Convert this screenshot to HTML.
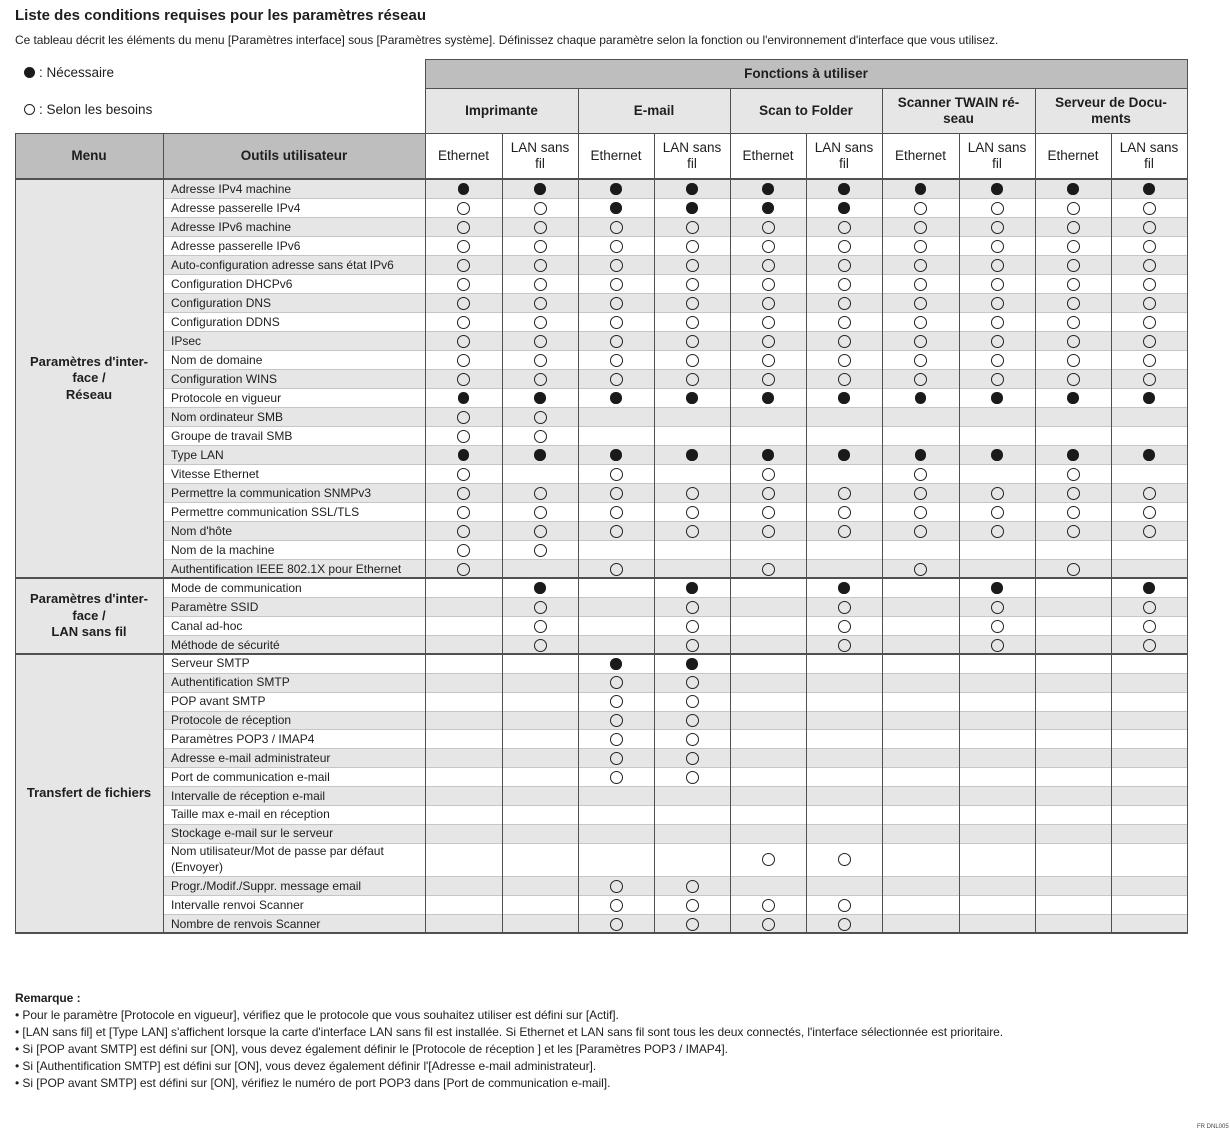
<!DOCTYPE html>
<html><head><meta charset="utf-8">
<style>
*{margin:0;padding:0;box-sizing:border-box}
body{width:1230px;height:1134px;background:#fff;position:relative;overflow:hidden;font-family:"Liberation Sans",Arial,sans-serif;color:#1e1e1e}
.a{position:absolute}
.title{left:15px;top:6.5px;font-size:15px;font-weight:bold;white-space:nowrap}
.sub{left:15px;top:33px;font-size:12px;white-space:nowrap;letter-spacing:-0.05px}
.leg{font-size:13.5px;white-space:nowrap;display:flex;align-items:center}
.leg span{display:inline-block;width:11px;height:11px;border-radius:50%;margin-right:4px}
.hd{display:flex;align-items:center;justify-content:center;text-align:center;line-height:16px}
.b{font-weight:bold;font-size:13.5px}
.n{font-size:13.5px}
.dk{background:#bebebe}
.lt{background:#e6e6e6}
.r{position:absolute;left:163px;width:1024px;height:19px;display:grid;grid-template-columns:262px 77px 76px 76px 76px 76px 76px 77px 76px 76px 76px;border-top:1.3px solid #c6c6c6;background:#fff}
.r.g{background:#e6e6e6}
.r.s{height:18.87px}
.r b{font-weight:normal;font-size:12px;line-height:17px;padding-left:8px;white-space:nowrap;align-self:center}
.r i{display:flex;align-items:center;justify-content:center}
.r i.o::after{content:"";display:block;width:11px;height:11px;border:1.6px solid #222;border-radius:50%}
.r i.f::after{content:"";display:block;width:11.5px;height:11.5px;background:#1a1a1a;border-radius:50%}
.v{position:absolute;width:1.6px;background:#505050}
.h{position:absolute;height:1.6px;background:#505050}
.sec{position:absolute;left:15px;width:148px;background:#e6e6e6;display:flex;align-items:center;justify-content:center;text-align:center;font-weight:bold;font-size:13px;line-height:16.5px}
.notes{left:15px;top:990px;font-size:12px;line-height:17px;white-space:nowrap;letter-spacing:-0.05px}
</style></head><body>
<div class="a title">Liste des conditions requises pour les paramètres réseau</div>
<div class="a sub">Ce tableau décrit les éléments du menu [Paramètres interface] sous [Paramètres système]. Définissez chaque paramètre selon la fonction ou l'environnement d'interface que vous utilisez.</div>
<div class="a leg" style="left:24px;top:65px"><span style="background:#1a1a1a"></span>: Nécessaire</div>
<div class="a leg" style="left:24px;top:102px"><span style="border:1.5px solid #222"></span>: Selon les besoins</div>

<!-- header -->
<div class="a hd b dk" style="left:425px;top:59px;width:762px;height:29px">Fonctions à utiliser</div>
<div class="a hd b lt" style="left:425px;top:88px;width:153px;height:45px">Imprimante</div>
<div class="a hd b lt" style="left:578px;top:88px;width:152px;height:45px">E-mail</div>
<div class="a hd b lt" style="left:730px;top:88px;width:152px;height:45px">Scan to Folder</div>
<div class="a hd b lt" style="left:882px;top:88px;width:153px;height:45px">Scanner TWAIN ré-<br>seau</div>
<div class="a hd b lt" style="left:1035px;top:88px;width:152px;height:45px">Serveur de Docu-<br>ments</div>
<div class="a hd b dk" style="left:15px;top:133px;width:148px;height:46px">Menu</div>
<div class="a hd b dk" style="left:163px;top:133px;width:262px;height:46px">Outils utilisateur</div>
<div class="a hd n" style="left:425px;top:133px;width:77px;height:46px">Ethernet</div>
<div class="a hd n" style="left:502px;top:133px;width:76px;height:46px">LAN sans<br>fil</div>
<div class="a hd n" style="left:578px;top:133px;width:76px;height:46px">Ethernet</div>
<div class="a hd n" style="left:654px;top:133px;width:76px;height:46px">LAN sans<br>fil</div>
<div class="a hd n" style="left:730px;top:133px;width:76px;height:46px">Ethernet</div>
<div class="a hd n" style="left:806px;top:133px;width:76px;height:46px">LAN sans<br>fil</div>
<div class="a hd n" style="left:882px;top:133px;width:77px;height:46px">Ethernet</div>
<div class="a hd n" style="left:959px;top:133px;width:76px;height:46px">LAN sans<br>fil</div>
<div class="a hd n" style="left:1035px;top:133px;width:76px;height:46px">Ethernet</div>
<div class="a hd n" style="left:1111px;top:133px;width:76px;height:46px">LAN sans<br>fil</div>

<!-- section labels -->
<div class="sec" style="top:179px;height:399px">Paramètres d'inter-<br>face /<br>Réseau</div>
<div class="sec" style="top:578px;height:76px">Paramètres d'inter-<br>face /<br>LAN sans fil</div>
<div class="sec" style="top:654px;height:279px">Transfert de fichiers</div>

<!-- section 1 -->
<div class="r g" style="top:179px"><b>Adresse IPv4 machine</b><i class="f"></i><i class="f"></i><i class="f"></i><i class="f"></i><i class="f"></i><i class="f"></i><i class="f"></i><i class="f"></i><i class="f"></i><i class="f"></i></div>
<div class="r" style="top:198px"><b>Adresse passerelle IPv4</b><i class="o"></i><i class="o"></i><i class="f"></i><i class="f"></i><i class="f"></i><i class="f"></i><i class="o"></i><i class="o"></i><i class="o"></i><i class="o"></i></div>
<div class="r g" style="top:217px"><b>Adresse IPv6 machine</b><i class="o"></i><i class="o"></i><i class="o"></i><i class="o"></i><i class="o"></i><i class="o"></i><i class="o"></i><i class="o"></i><i class="o"></i><i class="o"></i></div>
<div class="r" style="top:236px"><b>Adresse passerelle IPv6</b><i class="o"></i><i class="o"></i><i class="o"></i><i class="o"></i><i class="o"></i><i class="o"></i><i class="o"></i><i class="o"></i><i class="o"></i><i class="o"></i></div>
<div class="r g" style="top:255px"><b>Auto-configuration adresse sans état IPv6</b><i class="o"></i><i class="o"></i><i class="o"></i><i class="o"></i><i class="o"></i><i class="o"></i><i class="o"></i><i class="o"></i><i class="o"></i><i class="o"></i></div>
<div class="r" style="top:274px"><b>Configuration DHCPv6</b><i class="o"></i><i class="o"></i><i class="o"></i><i class="o"></i><i class="o"></i><i class="o"></i><i class="o"></i><i class="o"></i><i class="o"></i><i class="o"></i></div>
<div class="r g" style="top:293px"><b>Configuration DNS</b><i class="o"></i><i class="o"></i><i class="o"></i><i class="o"></i><i class="o"></i><i class="o"></i><i class="o"></i><i class="o"></i><i class="o"></i><i class="o"></i></div>
<div class="r" style="top:312px"><b>Configuration DDNS</b><i class="o"></i><i class="o"></i><i class="o"></i><i class="o"></i><i class="o"></i><i class="o"></i><i class="o"></i><i class="o"></i><i class="o"></i><i class="o"></i></div>
<div class="r g" style="top:331px"><b>IPsec</b><i class="o"></i><i class="o"></i><i class="o"></i><i class="o"></i><i class="o"></i><i class="o"></i><i class="o"></i><i class="o"></i><i class="o"></i><i class="o"></i></div>
<div class="r" style="top:350px"><b>Nom de domaine</b><i class="o"></i><i class="o"></i><i class="o"></i><i class="o"></i><i class="o"></i><i class="o"></i><i class="o"></i><i class="o"></i><i class="o"></i><i class="o"></i></div>
<div class="r g" style="top:369px"><b>Configuration WINS</b><i class="o"></i><i class="o"></i><i class="o"></i><i class="o"></i><i class="o"></i><i class="o"></i><i class="o"></i><i class="o"></i><i class="o"></i><i class="o"></i></div>
<div class="r" style="top:388px"><b>Protocole en vigueur</b><i class="f"></i><i class="f"></i><i class="f"></i><i class="f"></i><i class="f"></i><i class="f"></i><i class="f"></i><i class="f"></i><i class="f"></i><i class="f"></i></div>
<div class="r g" style="top:407px"><b>Nom ordinateur SMB</b><i class="o"></i><i class="o"></i><i></i><i></i><i></i><i></i><i></i><i></i><i></i><i></i></div>
<div class="r" style="top:426px"><b>Groupe de travail SMB</b><i class="o"></i><i class="o"></i><i></i><i></i><i></i><i></i><i></i><i></i><i></i><i></i></div>
<div class="r g" style="top:445px"><b>Type LAN</b><i class="f"></i><i class="f"></i><i class="f"></i><i class="f"></i><i class="f"></i><i class="f"></i><i class="f"></i><i class="f"></i><i class="f"></i><i class="f"></i></div>
<div class="r" style="top:464px"><b>Vitesse Ethernet</b><i class="o"></i><i></i><i class="o"></i><i></i><i class="o"></i><i></i><i class="o"></i><i></i><i class="o"></i><i></i></div>
<div class="r g" style="top:483px"><b>Permettre la communication SNMPv3</b><i class="o"></i><i class="o"></i><i class="o"></i><i class="o"></i><i class="o"></i><i class="o"></i><i class="o"></i><i class="o"></i><i class="o"></i><i class="o"></i></div>
<div class="r" style="top:502px"><b>Permettre communication SSL/TLS</b><i class="o"></i><i class="o"></i><i class="o"></i><i class="o"></i><i class="o"></i><i class="o"></i><i class="o"></i><i class="o"></i><i class="o"></i><i class="o"></i></div>
<div class="r g" style="top:521px"><b>Nom d'hôte</b><i class="o"></i><i class="o"></i><i class="o"></i><i class="o"></i><i class="o"></i><i class="o"></i><i class="o"></i><i class="o"></i><i class="o"></i><i class="o"></i></div>
<div class="r" style="top:540px"><b>Nom de la machine</b><i class="o"></i><i class="o"></i><i></i><i></i><i></i><i></i><i></i><i></i><i></i><i></i></div>
<div class="r g" style="top:559px"><b>Authentification IEEE 802.1X pour Ethernet</b><i class="o"></i><i></i><i class="o"></i><i></i><i class="o"></i><i></i><i class="o"></i><i></i><i class="o"></i><i></i></div>
<!-- section 2 -->
<div class="r" style="top:578px"><b>Mode de communication</b><i></i><i class="f"></i><i></i><i class="f"></i><i></i><i class="f"></i><i></i><i class="f"></i><i></i><i class="f"></i></div>
<div class="r g" style="top:597px"><b>Paramètre SSID</b><i></i><i class="o"></i><i></i><i class="o"></i><i></i><i class="o"></i><i></i><i class="o"></i><i></i><i class="o"></i></div>
<div class="r" style="top:616px"><b>Canal ad-hoc</b><i></i><i class="o"></i><i></i><i class="o"></i><i></i><i class="o"></i><i></i><i class="o"></i><i></i><i class="o"></i></div>
<div class="r g" style="top:635px"><b>Méthode de sécurité</b><i></i><i class="o"></i><i></i><i class="o"></i><i></i><i class="o"></i><i></i><i class="o"></i><i></i><i class="o"></i></div>
<!-- section 3 -->
<div class="r s" style="top:654px"><b>Serveur SMTP</b><i></i><i></i><i class="f"></i><i class="f"></i><i></i><i></i><i></i><i></i><i></i><i></i></div>
<div class="r s g" style="top:672.87px"><b>Authentification SMTP</b><i></i><i></i><i class="o"></i><i class="o"></i><i></i><i></i><i></i><i></i><i></i><i></i></div>
<div class="r s" style="top:691.74px"><b>POP avant SMTP</b><i></i><i></i><i class="o"></i><i class="o"></i><i></i><i></i><i></i><i></i><i></i><i></i></div>
<div class="r s g" style="top:710.61px"><b>Protocole de réception</b><i></i><i></i><i class="o"></i><i class="o"></i><i></i><i></i><i></i><i></i><i></i><i></i></div>
<div class="r s" style="top:729.48px"><b>Paramètres POP3 / IMAP4</b><i></i><i></i><i class="o"></i><i class="o"></i><i></i><i></i><i></i><i></i><i></i><i></i></div>
<div class="r s g" style="top:748.35px"><b>Adresse e-mail administrateur</b><i></i><i></i><i class="o"></i><i class="o"></i><i></i><i></i><i></i><i></i><i></i><i></i></div>
<div class="r s" style="top:767.22px"><b>Port de communication e-mail</b><i></i><i></i><i class="o"></i><i class="o"></i><i></i><i></i><i></i><i></i><i></i><i></i></div>
<div class="r s g" style="top:786.09px"><b>Intervalle de réception e-mail</b><i></i><i></i><i></i><i></i><i></i><i></i><i></i><i></i><i></i><i></i></div>
<div class="r s" style="top:804.96px"><b>Taille max e-mail en réception</b><i></i><i></i><i></i><i></i><i></i><i></i><i></i><i></i><i></i><i></i></div>
<div class="r s g" style="top:823.83px"><b>Stockage e-mail sur le serveur</b><i></i><i></i><i></i><i></i><i></i><i></i><i></i><i></i><i></i><i></i></div>
<div class="r" style="top:842.7px;height:33.6px"><b style="line-height:15.5px">Nom utilisateur/Mot de passe par défaut<br>(Envoyer)</b><i></i><i></i><i></i><i></i><i class="o"></i><i class="o"></i><i></i><i></i><i></i><i></i></div>
<div class="r s g" style="top:876.3px"><b>Progr./Modif./Suppr. message email</b><i></i><i></i><i class="o"></i><i class="o"></i><i></i><i></i><i></i><i></i><i></i><i></i></div>
<div class="r s" style="top:895.2px"><b>Intervalle renvoi Scanner</b><i></i><i></i><i class="o"></i><i class="o"></i><i class="o"></i><i class="o"></i><i></i><i></i><i></i><i></i></div>
<div class="r s g" style="top:914.1px"><b>Nombre de renvois Scanner</b><i></i><i></i><i class="o"></i><i class="o"></i><i class="o"></i><i class="o"></i><i></i><i></i><i></i><i></i></div>

<!-- horizontal dark lines -->
<div class="h" style="left:425px;width:763px;top:58.5px"></div>
<div class="h" style="left:425px;width:763px;top:87.5px"></div>
<div class="h" style="left:15px;width:1173px;top:132.5px"></div>
<div class="h" style="left:15px;width:1173px;top:178.2px"></div>
<div class="h" style="left:15px;width:1173px;top:577.2px"></div>
<div class="h" style="left:15px;width:1173px;top:653.2px"></div>
<div class="h" style="left:15px;width:1173px;top:932.3px"></div>
<!-- vertical lines -->
<div class="v" style="left:14.5px;top:132.5px;height:801px"></div>
<div class="v" style="left:162.5px;top:132.5px;height:801px"></div>
<div class="v" style="left:424.5px;top:58.5px;height:875px"></div>
<div class="v" style="left:501.5px;top:132.5px;height:801px"></div>
<div class="v" style="left:577.5px;top:87.5px;height:846px"></div>
<div class="v" style="left:653.5px;top:132.5px;height:801px"></div>
<div class="v" style="left:729.5px;top:87.5px;height:846px"></div>
<div class="v" style="left:805.5px;top:132.5px;height:801px"></div>
<div class="v" style="left:881.5px;top:87.5px;height:846px"></div>
<div class="v" style="left:958.5px;top:132.5px;height:801px"></div>
<div class="v" style="left:1034.5px;top:87.5px;height:846px"></div>
<div class="v" style="left:1110.5px;top:132.5px;height:801px"></div>
<div class="v" style="left:1186.5px;top:58.5px;height:875px"></div>

<div class="a notes"><b style="font-size:12px">Remarque :</b><br>
• Pour le paramètre [Protocole en vigueur], vérifiez que le protocole que vous souhaitez utiliser est défini sur [Actif].<br>
• [LAN sans fil] et [Type LAN] s'affichent lorsque la carte d'interface LAN sans fil est installée. Si Ethernet et LAN sans fil sont tous les deux connectés, l'interface sélectionnée est prioritaire.<br>
• Si [POP avant SMTP] est défini sur [ON], vous devez également définir le [Protocole de réception ] et les [Paramètres POP3 / IMAP4].<br>
• Si [Authentification SMTP] est défini sur [ON], vous devez également définir l'[Adresse e-mail administrateur].<br>
• Si [POP avant SMTP] est défini sur [ON], vérifiez le numéro de port POP3 dans [Port de communication e-mail].</div>
<div class="a" style="left:1197px;top:1124px;font-size:6px;color:#444;white-space:nowrap">FR DNL005</div>
</body></html>
